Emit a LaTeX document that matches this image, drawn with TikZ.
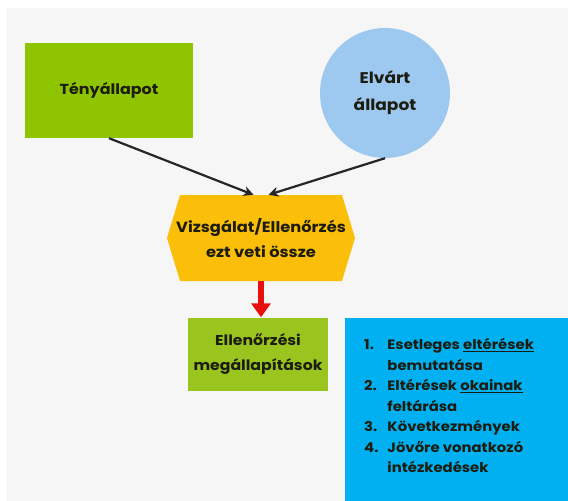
\documentclass[tikz,border=0pt]{standalone}
\usepackage{fontspec}
\setmainfont{Poppins}[FakeStretch=1.1]
\usetikzlibrary{arrows.meta}
\definecolor{bgray}{HTML}{F6F6F6}
\definecolor{gA}{HTML}{8EC400}
\definecolor{gB}{HTML}{9AC41E}
\definecolor{lblue}{HTML}{9DC8F0}
\definecolor{hexc}{HTML}{FBBF0A}
\definecolor{cyanbox}{HTML}{00B0F0}
\definecolor{txt}{HTML}{1C1C10}
\definecolor{redarr}{HTML}{E8100C}
\tikzset{
  lbl/.style={font=\bfseries\fontsize{14.5}{17}\selectfont, text=txt, align=center, inner sep=0pt},
  blkarrow/.style={draw=black!85, line width=2.2pt, -{Stealth[length=10pt,width=10pt]}},
  redarrow/.style={draw=redarr, line width=6pt, -{Triangle[length=14pt,width=19pt]}},
}
\begin{document}
\begin{tikzpicture}[x=1pt,y=-1pt]
\useasboundingbox (0,0) rectangle (568,501);
\fill[white] (0,0) rectangle (568,501);
\fill[bgray] (7,8) rectangle (568,501);
% Tényállapot
\node[lbl, fill=gA, minimum width=168pt, minimum height=95pt] (teny) at (109,90.5) {Tényállapot};
% Elvárt állapot
\node[lbl, circle, fill=lblue, minimum size=130pt, font=\bfseries\fontsize{15.5}{27}\selectfont] (elvart) at (385,93) {Elvárt\\állapot};
% hexagon
\fill[hexc] (167,238) -- (180,195) -- (342,195) -- (355,238) -- (342,281) -- (180,281) -- cycle;
\node[lbl, minimum width=188pt, minimum height=86pt, font=\bfseries\fontsize{14.8}{25}\selectfont] (hex) at (261,238) {Vizsgálat/Ellenőrzés\\ezt veti össze};
% arrows
\draw[blkarrow] (teny.south) -- ([xshift=-7.5pt]hex.north);
\draw[blkarrow] (elvart.south) -- ([xshift=7.5pt]hex.north);
% findings
\node[lbl, fill=gB, minimum width=140pt, minimum height=73pt, font=\bfseries\fontsize{14.3}{25}\selectfont] (find) at (258,354) {Ellenőrzési\\megállapítások};
\draw[redarrow] (hex.south) -- ([xshift=3pt]find.north);
% blue list
\node[fill=cyanbox, minimum width=224pt, minimum height=184pt, inner sep=0pt] (list) at (457,410) {};
\node[anchor=north west, inner sep=0pt, text=txt, align=left,
      font=\bfseries\fontsize{13.5}{20.5}\selectfont] (items) at (364,335)
{\begin{tabular}{@{}l@{\hspace{9pt}}l@{}}
1. & Esetleges \underline{eltérések}\\
   & bemutatása\\
2. & Eltérések \underline{okainak}\\
   & feltárása\\
3. & Következmények\\
4. & Jövőre vonatkozó\\
   & intézkedések
\end{tabular}};
\end{tikzpicture}
\end{document}
